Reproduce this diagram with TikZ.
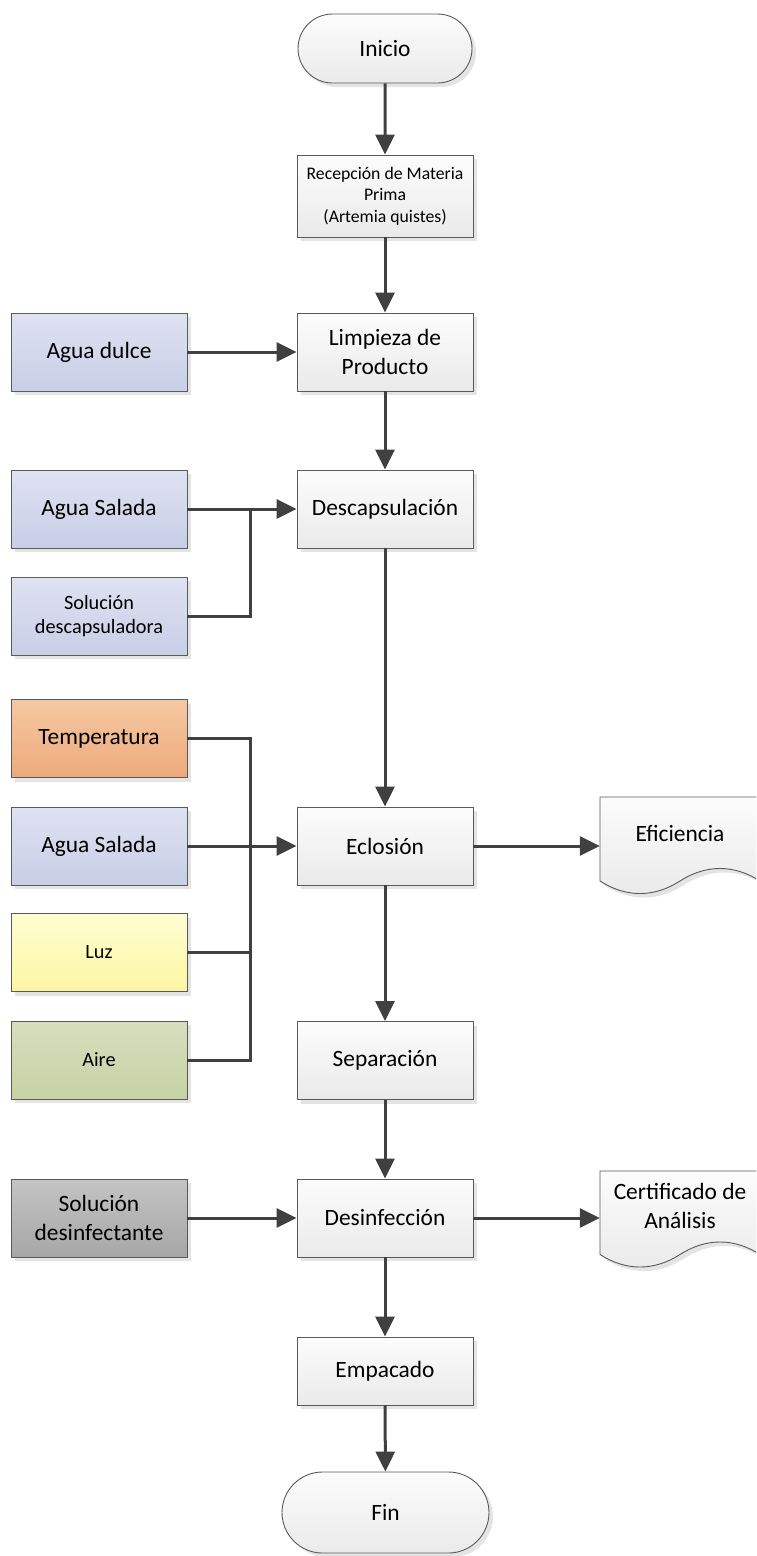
\documentclass[tikz,border=0pt]{standalone}
\usepackage{fontspec}
\setmainfont{Carlito}
\usetikzlibrary{arrows.meta,shapes.misc,shadows,calc}
\definecolor{linec}{HTML}{404040}
\definecolor{bordc}{HTML}{5A5A5A}
\definecolor{shadc}{HTML}{E4E4E4}
\definecolor{procT}{HTML}{FCFCFC}
\definecolor{procB}{HTML}{EAEAEA}
\definecolor{blueT}{HTML}{DEE2F1}
\definecolor{blueB}{HTML}{C8CEE7}
\definecolor{orT}{HTML}{F5C8A3}
\definecolor{orB}{HTML}{EDAA7A}
\definecolor{yeT}{HTML}{FFFED3}
\definecolor{yeB}{HTML}{FBF6A2}
\definecolor{grT}{HTML}{D8DEBE}
\definecolor{grB}{HTML}{C6D2A2}
\definecolor{dgT}{HTML}{C4C4C4}
\definecolor{dgB}{HTML}{A6A6A6}
\begin{document}
\begin{tikzpicture}[x=1pt,y=-1pt,
  box/.style={rectangle, draw=bordc, line width=0.9pt, minimum width=176pt,
    minimum height=78pt, align=center, inner sep=2pt,
    font=\fontsize{23.4}{28.5}\selectfont,
    general shadow={fill=shadc, shadow xshift=4pt, shadow yshift=-4pt}},
  proc/.style={box, top color=procT, bottom color=procB},
  blue/.style={box, top color=blueT, bottom color=blueB},
  term/.style={rounded rectangle, draw=bordc, line width=0.9pt,
    top color=procT, bottom color=procB, inner sep=2pt,
    font=\fontsize{23.4}{28.5}\selectfont,
    general shadow={fill=shadc, shadow xshift=4pt, shadow yshift=-4pt}},
  small/.style={font=\fontsize{17.7}{21.6}\selectfont},
  mid/.style={font=\fontsize{20.3}{24.6}\selectfont},
  doctext/.style={rectangle, minimum width=160pt, align=center, inner sep=0pt,
    font=\fontsize{23.4}{28.5}\selectfont},
  docshape/.style={draw=bordc, line width=0.9pt, top color=procT, bottom color=procB},
  flow/.style={draw=linec, line width=3pt, -{Triangle[length=20pt,width=19pt]}},
  wire/.style={draw=linec, line width=3pt},
]
\useasboundingbox (0,0) rectangle (756,1556);
\clip (0,0) rectangle (756,1556);

% main column
\node[term, minimum width=178pt, minimum height=69pt] (ini) at (385,48.5) {Inicio};
\node[proc, small, minimum height=82pt] (rec) at (385,196) {Recepción de Materia\\Prima\\(Artemia quistes)};
\node[proc] (lim) at (385,352) {Limpieza de\\Producto};
\node[proc] (des) at (385,509) {Descapsulación};
\node[proc] (ecl) at (385,846) {Eclosión};
\node[proc] (sep) at (385,1060.5) {Separación};
\node[proc] (dsf) at (385,1218) {Desinfección};
\node[proc, minimum height=68pt] (emp) at (385,1371) {Empacado};
\node[term, minimum width=211pt, minimum height=81pt] (fin) at (385.5,1512.5) {Fin};

% inputs
\node[blue] (agd) at (99,352) {Agua dulce};
\node[blue] (as1) at (99,509) {Agua Salada};
\node[blue, mid] (sol) at (99,616) {Solución\\descapsuladora};
\node[box, top color=orT, bottom color=orB] (tem) at (99,738.5) {Temperatura};
\node[blue] (as2) at (99,846) {Agua Salada};
\node[box, mid, top color=yeT, bottom color=yeB] (luz) at (99,952.5) {Luz};
\node[box, mid, top color=grT, bottom color=grB] (air) at (99,1060) {Aire};
\node[box, top color=dgT, bottom color=dgB] (sdf) at (99,1218) {Solución\\desinfectante};

% documents
\fill[shadc] (604,801) -- (764,801) -- (764,885)
  .. controls (738,868.3) and (710,868.3) .. (684,885)
  .. controls (658,901.7) and (630,901.7) .. (604,885) -- cycle;
\path[docshape] (600,797) -- (760,797) -- (760,881)
  .. controls (734,864.3) and (706,864.3) .. (680,881)
  .. controls (654,897.7) and (626,897.7) .. (600,881) -- cycle;
\node[doctext] (efi) at (680,833) {Eficiencia};

\fill[shadc] (604,1175) -- (764,1175) -- (764,1258.5)
  .. controls (738,1241.8) and (710,1241.8) .. (684,1258.5)
  .. controls (658,1275.2) and (630,1275.2) .. (604,1258.5) -- cycle;
\path[docshape] (600,1171) -- (760,1171) -- (760,1254.5)
  .. controls (734,1237.8) and (706,1237.8) .. (680,1254.5)
  .. controls (654,1271.2) and (626,1271.2) .. (600,1254.5) -- cycle;
\node[doctext] (cer) at (680,1206) {Certificado de\\Análisis};

% junctions
\coordinate (j1) at (250,509);
\coordinate (j2) at (250,846);

% connectors
\draw[flow] (ini) -- (rec);
\draw[flow] (rec) -- (lim);
\draw[flow] (lim) -- (des);
\draw[flow] (des) -- (ecl);
\draw[flow] (ecl) -- (sep);
\draw[flow] (sep) -- (dsf);
\draw[flow] (dsf) -- (emp);
\draw[flow] (emp) -- (fin);

\draw[flow] (agd) -- (lim);
\draw[flow] (as1) -- (des);
\draw[wire] (sol.east) -| (j1);
\draw[flow] (as2) -- (ecl);
\draw[wire] (tem.east) -| (j2);
\draw[wire] (luz.east) -| (j2);
\draw[wire] (air.east) -| (j2);
\draw[flow] (sdf) -- (dsf);

\draw[flow] (ecl.east) -- (ecl.east -| efi.west);
\draw[flow] (dsf.east) -- (dsf.east -| cer.west);
\end{tikzpicture}
\end{document}
